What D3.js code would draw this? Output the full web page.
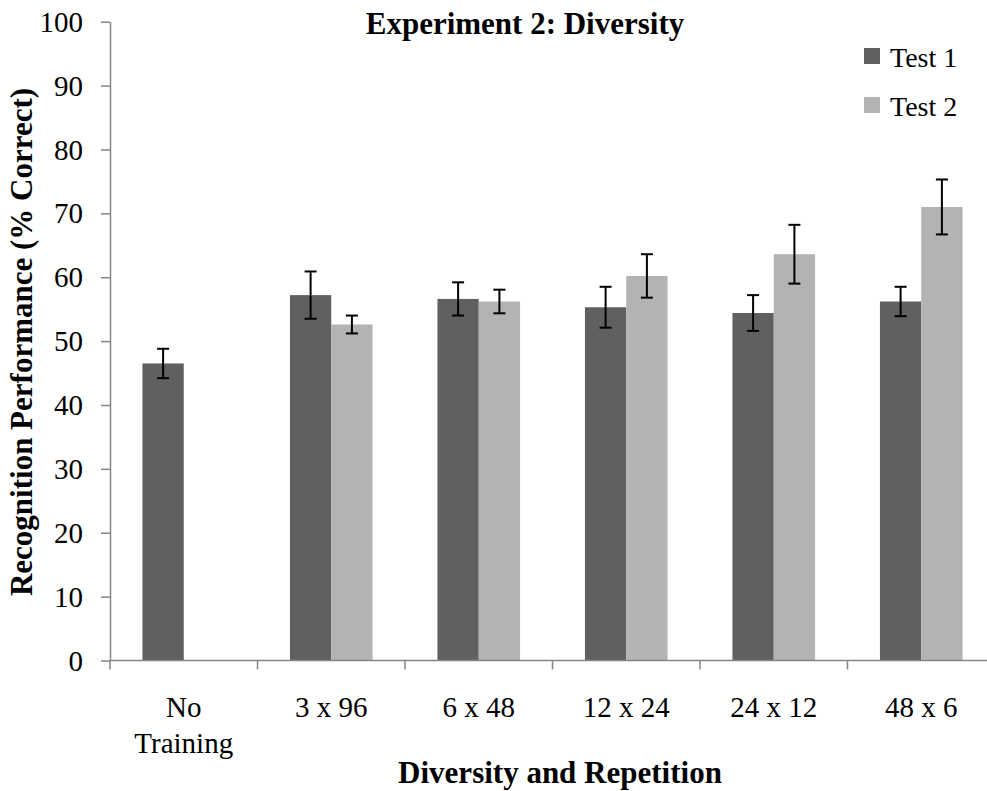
<!DOCTYPE html>
<html>
<head>
<meta charset="utf-8">
<script src="https://cdn.jsdelivr.net/npm/d3@7"></script>
<style>
  body { margin: 0; background: #fff; }
  svg text { font-family: "Liberation Serif", "Times New Roman", serif; fill: #000; }
</style>
</head>
<body>
<svg id="chart" width="987" height="791" font-family="Liberation Serif"></svg>
<script>
var categories = [["No", "Training"], ["3 x 96"], ["6 x 48"], ["12 x 24"], ["24 x 12"], ["48 x 6"]];
var seriesNames = ["Test 1", "Test 2"];
var test1 = [46.5, 57.2, 56.6, 55.3, 54.4, 56.2];
var test1Err = [2.3, 3.7, 2.6, 3.2, 2.8, 2.3];
var test2 = [null, 52.6, 56.2, 60.2, 63.6, 71.0];
var test2Err = [null, 1.4, 1.85, 3.4, 4.6, 4.3];
var yTicks = [0, 10, 20, 30, 40, 50, 60, 70, 80, 90, 100];
var colors = ["#606060", "#b3b3b3"];

var svg = d3.select("#chart");
var mLeft = 110, mRight = 995, mTop = 21.7, mBottom = 660.5;

var x = d3.scaleBand().domain(d3.range(categories.length)).range([mLeft, mRight]);
var y = d3.scaleLinear().domain([0, 100]).range([mBottom, mTop]);

// bars + error bars
var series = [test1, test2];
var errs = [test1Err, test2Err];
var bw = x.bandwidth() * 0.28;
series.forEach(function (vals, s) {
    var off = (x.bandwidth() - 2 * bw) / 2 + s * bw;
    var data = vals.map(function (v, i) { return { v: v, i: i, e: errs[s][i] }; })
        .filter(function (d) { return d.v !== null; });
    svg.append("g").selectAll("rect")
        .data(data)
        .enter().append("rect")
        .attr("x", function (d) { return x(d.i) + off; })
        .attr("width", bw)
        .attr("y", function (d) { return y(d.v); })
        .attr("height", function (d) { return y(0) - y(d.v); })
        .attr("fill", colors[s]);
    var eg = svg.append("g").attr("stroke", "#000").attr("stroke-width", 2);
    data.forEach(function (d) {
        var cx = x(d.i) + off + bw / 2;
        eg.append("line").attr("x1", cx).attr("x2", cx).attr("y1", y(d.v + d.e)).attr("y2", y(d.v - d.e));
        eg.append("line").attr("x1", cx - 6).attr("x2", cx + 6).attr("y1", y(d.v + d.e)).attr("y2", y(d.v + d.e));
        eg.append("line").attr("x1", cx - 6).attr("x2", cx + 6).attr("y1", y(d.v - d.e)).attr("y2", y(d.v - d.e));
    });
});

// y axis
var yAxis = svg.append("g").attr("transform", "translate(" + mLeft + ",0)")
    .call(d3.axisLeft(y).tickValues(yTicks).tickSize(9).tickSizeOuter(0).tickPadding(18));
yAxis.select(".domain").attr("stroke", "#868686").attr("stroke-width", 1.5);
yAxis.selectAll(".tick line").attr("stroke", "#868686").attr("stroke-width", 1.5);
yAxis.selectAll(".tick text").attr("font-size", 29).attr("font-family", "Liberation Serif").attr("dy", "0.33em");

// x axis
var xg = svg.append("g");
xg.append("line").attr("x1", mLeft).attr("x2", mRight).attr("y1", mBottom).attr("y2", mBottom)
    .attr("stroke", "#868686").attr("stroke-width", 1.5);
xg.selectAll(".xt").data(d3.range(categories.length)).enter().append("line")
    .attr("x1", function (i) { return x(i); }).attr("x2", function (i) { return x(i); })
    .attr("y1", mBottom).attr("y2", mBottom + 9)
    .attr("stroke", "#868686").attr("stroke-width", 1.5);
categories.forEach(function (c, i) {
    var cx = x(i) + x.bandwidth() / 2;
    var t = xg.append("text").attr("text-anchor", "middle").attr("font-size", 29);
    c.forEach(function (line, k) {
        t.append("tspan").attr("x", cx).attr("y", 717 + k * 36).text(line);
    });
});

// titles
svg.append("text").attr("x", 525).attr("y", 34).attr("text-anchor", "middle")
    .attr("font-size", 31).attr("font-weight", "bold").text("Experiment 2: Diversity");
svg.append("text").attr("x", 560).attr("y", 783).attr("text-anchor", "middle")
    .attr("font-size", 31).attr("font-weight", "bold").text("Diversity and Repetition");
svg.append("text").attr("transform", "translate(32,342) rotate(-90)").attr("text-anchor", "middle")
    .attr("font-size", 31).attr("font-weight", "bold").text("Recognition Performance (% Correct)");

// legend
var lg = svg.append("g");
seriesNames.forEach(function (n, s) {
    lg.append("rect").attr("x", 864).attr("y", 48 + s * 49).attr("width", 16).attr("height", 16).attr("fill", colors[s]);
    lg.append("text").attr("x", 890).attr("y", 67 + s * 49).attr("font-size", 28).text(n);
});
</script>
</body>
</html>
